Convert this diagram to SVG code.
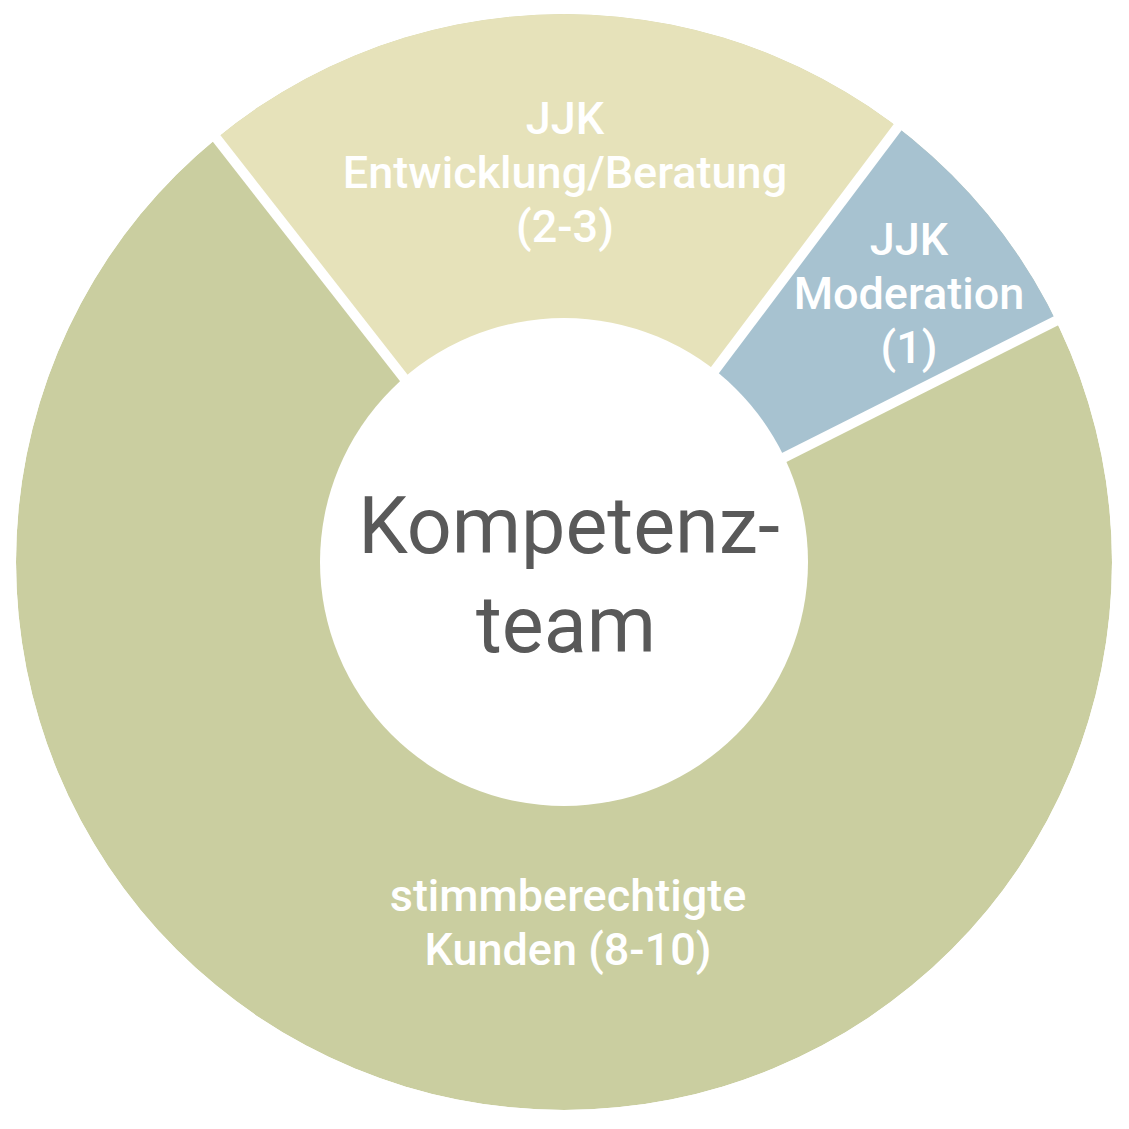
<svg xmlns="http://www.w3.org/2000/svg" width="1129" height="1129" viewBox="0 0 1129 1129">
<style>
.lbl{font-family:Roboto,"Liberation Sans",sans-serif;font-size:45px;font-weight:500;fill:#ffffff;text-anchor:middle}
.ctr{font-family:Roboto,"Liberation Sans",sans-serif;font-size:79px;fill:#595959;text-anchor:middle}
.gap{stroke:#ffffff;stroke-width:10;fill:none}
</style>
<defs>
<clipPath id="ring"><circle cx="564" cy="562" r="548"/></clipPath>
</defs>
<rect width="1129" height="1129" fill="#ffffff"/>
<g id="segments" clip-path="url(#ring)">
<g id="kunden"><circle cx="564" cy="562" r="548" fill="#CACEA0"/></g>
<g id="entwicklung"><polygon points="559,577 29,-101 1079,-114" fill="#E6E2BA"/></g>
<g id="moderation"><polygon points="567,567 1079,-114 1329,-114 1329,183" fill="#A7C2D0"/></g>
</g>
<g id="connectors">
<line class="gap" x1="496.5" y1="496.5" x2="160" y2="66"/>
<line class="gap" x1="624" y1="491" x2="952" y2="55"/>
<line class="gap" x1="649" y1="525.5" x2="1139" y2="279"/>
</g>
<g id="center">
<circle cx="564" cy="562" r="244" fill="#ffffff"/>
<text class="ctr" x="569" y="553">Kompetenz-</text>
<text class="ctr" x="566" y="652">team</text>
</g>
<g id="label-entwicklung">
<text class="lbl" x="565" y="134">JJK</text>
<text class="lbl" x="565" y="188">Entwicklung/Beratung</text>
<text class="lbl" x="565" y="242">(2-3)</text>
</g>
<g id="label-moderation">
<text class="lbl" x="909" y="255">JJK</text>
<text class="lbl" x="909" y="309">Moderation</text>
<text class="lbl" x="909" y="363">(1)</text>
</g>
<g id="label-kunden">
<text class="lbl" x="568" y="911">stimmberechtigte</text>
<text class="lbl" x="568" y="965">Kunden (8-10)</text>
</g>
</svg>
